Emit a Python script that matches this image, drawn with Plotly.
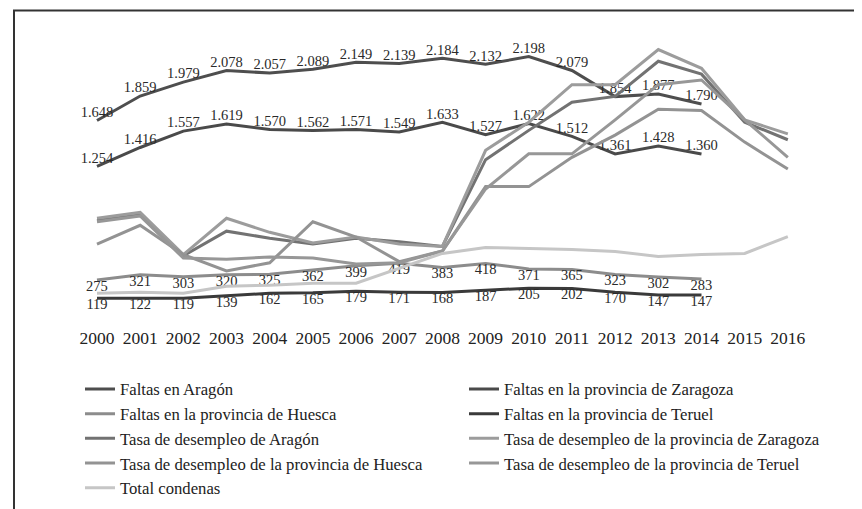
import plotly.graph_objects as go

years = list(range(2000, 2017))
tick_labels = [str(y) for y in years]
years_faltas = list(range(2000, 2015))

faltas_aragon = [1648, 1859, 1979, 2078, 2057, 2089, 2149, 2139, 2184, 2132, 2198, 2079, 1854, 1877, 1790]
faltas_zaragoza = [1254, 1416, 1557, 1619, 1570, 1562, 1571, 1549, 1633, 1527, 1622, 1512, 1361, 1428, 1360]
faltas_huesca = [275, 321, 303, 320, 325, 362, 399, 419, 383, 418, 371, 365, 323, 302, 283]
faltas_teruel = [119, 122, 119, 139, 162, 165, 179, 171, 168, 187, 205, 202, 170, 147, 147]

tasa_aragon = [7.8, 8.3, 4.8, 6.9, 6.3, 5.8, 6.3, 6.0, 5.6, 13.0, 15.5, 17.9, 18.4, 21.4, 20.3, 16.2, 14.7]
tasa_zaragoza = [8.0, 8.5, 4.9, 8.0, 6.8, 5.9, 6.4, 5.8, 5.6, 13.8, 16.2, 19.4, 19.4, 22.4, 20.8, 16.4, 15.2]
tasa_huesca = [5.8, 7.4, 4.9, 3.5, 4.2, 7.7, 6.4, 4.3, 5.2, 10.7, 10.7, 13.2, 15.1, 17.3, 17.2, 14.5, 12.2]
tasa_teruel = [7.7, 8.2, 4.6, 4.5, 4.7, 4.6, 4.1, 4.2, 5.2, 10.5, 13.5, 13.5, 16.4, 19.4, 19.8, 16.4, 13.2]
total_condenas = [1900, 2000, 1900, 2600, 2700, 2900, 2900, 4400, 5900, 6500, 6400, 6300, 6100, 5600, 5800, 5900, 7600]

FONT = "Liberation Serif"
LW = 3

fig = go.Figure()

def faltas(name, vals, color, pos):
    fig.add_trace(go.Scatter(
        x=years_faltas, y=vals, name=name, mode="lines+text",
        line=dict(color=color, width=LW),
        texttemplate="%{y:,.0f}", textposition=pos,
        textfont=dict(family=FONT, size=14.5, color="#2a2a2a"),
        yaxis="y",
    ))

def tasa(name, vals, color, axis="y2"):
    fig.add_trace(go.Scatter(
        x=years, y=vals, name=name, mode="lines",
        line=dict(color=color, width=LW), yaxis=axis,
    ))

faltas("Faltas en Aragón", faltas_aragon, "#4e4e4e", "top center")
faltas("Faltas en la provincia de Zaragoza", faltas_zaragoza, "#4a4a4a", "top center")
faltas("Faltas en la provincia de Huesca", faltas_huesca, "#8c8c8c", "bottom center")
faltas("Faltas en la provincia de Teruel", faltas_teruel, "#3a3a3a", "bottom center")
tasa("Tasa de desempleo de Aragón", tasa_aragon, "#727272")
tasa("Tasa de desempleo de la provincia de Zaragoza", tasa_zaragoza, "#9c9c9c")
tasa("Tasa de desempleo de la provincia de Huesca", tasa_huesca, "#939393")
tasa("Tasa de desempleo de la provincia de Teruel", tasa_teruel, "#979797")
tasa("Total condenas", total_condenas, "#c6c6c6", axis="y3")

W, H = 862, 509
L, R, T, B = 50, 820, 20, 306
pw, ph = R - L, B - T

fig.update_layout(
    width=W, height=H,
    margin=dict(l=L, r=W - R, t=T, b=H - B, pad=0),
    paper_bgcolor="white", plot_bgcolor="white",
    separators=",.",
    font=dict(family=FONT, color="#222"),
    xaxis=dict(range=[1999.097, 2016.93], tickvals=years, ticktext=tick_labels,
               showgrid=False, zeroline=False, showline=False, ticks="",
               tickfont=dict(family=FONT, size=17.5, color="#222"),
               ticklabelstandoff=13),
    yaxis=dict(range=[0, ph / 0.117], visible=False, showgrid=False),
    yaxis2=dict(range=[0, ph / 11.8], overlaying="y", visible=False, showgrid=False),
    yaxis3=dict(range=[0, ph / 0.01], overlaying="y", visible=False, showgrid=False),
    showlegend=True,
    legend=dict(orientation="h", x=(72 - L) / pw, xanchor="left",
                y=(B - 366) / ph, yanchor="top",
                entrywidth=339, entrywidthmode="pixels",
                font=dict(family=FONT, size=16.7, color="#222"),
                itemwidth=30, bgcolor="rgba(0,0,0,0)"),
    shapes=[dict(type="path", xref="paper", yref="paper",
                 path="M %f %f L %f %f L %f %f L %f %f" % (
                     (6 - L) / pw, (B - 520) / ph,
                     (6 - L) / pw, (B - 2.5) / ph,
                     (860 - L) / pw, (B - 2.5) / ph,
                     (860 - L) / pw, (B - 520) / ph),
                 line=dict(color="#333", width=2), layer="above")],
)

fig.write_html("out.html")
